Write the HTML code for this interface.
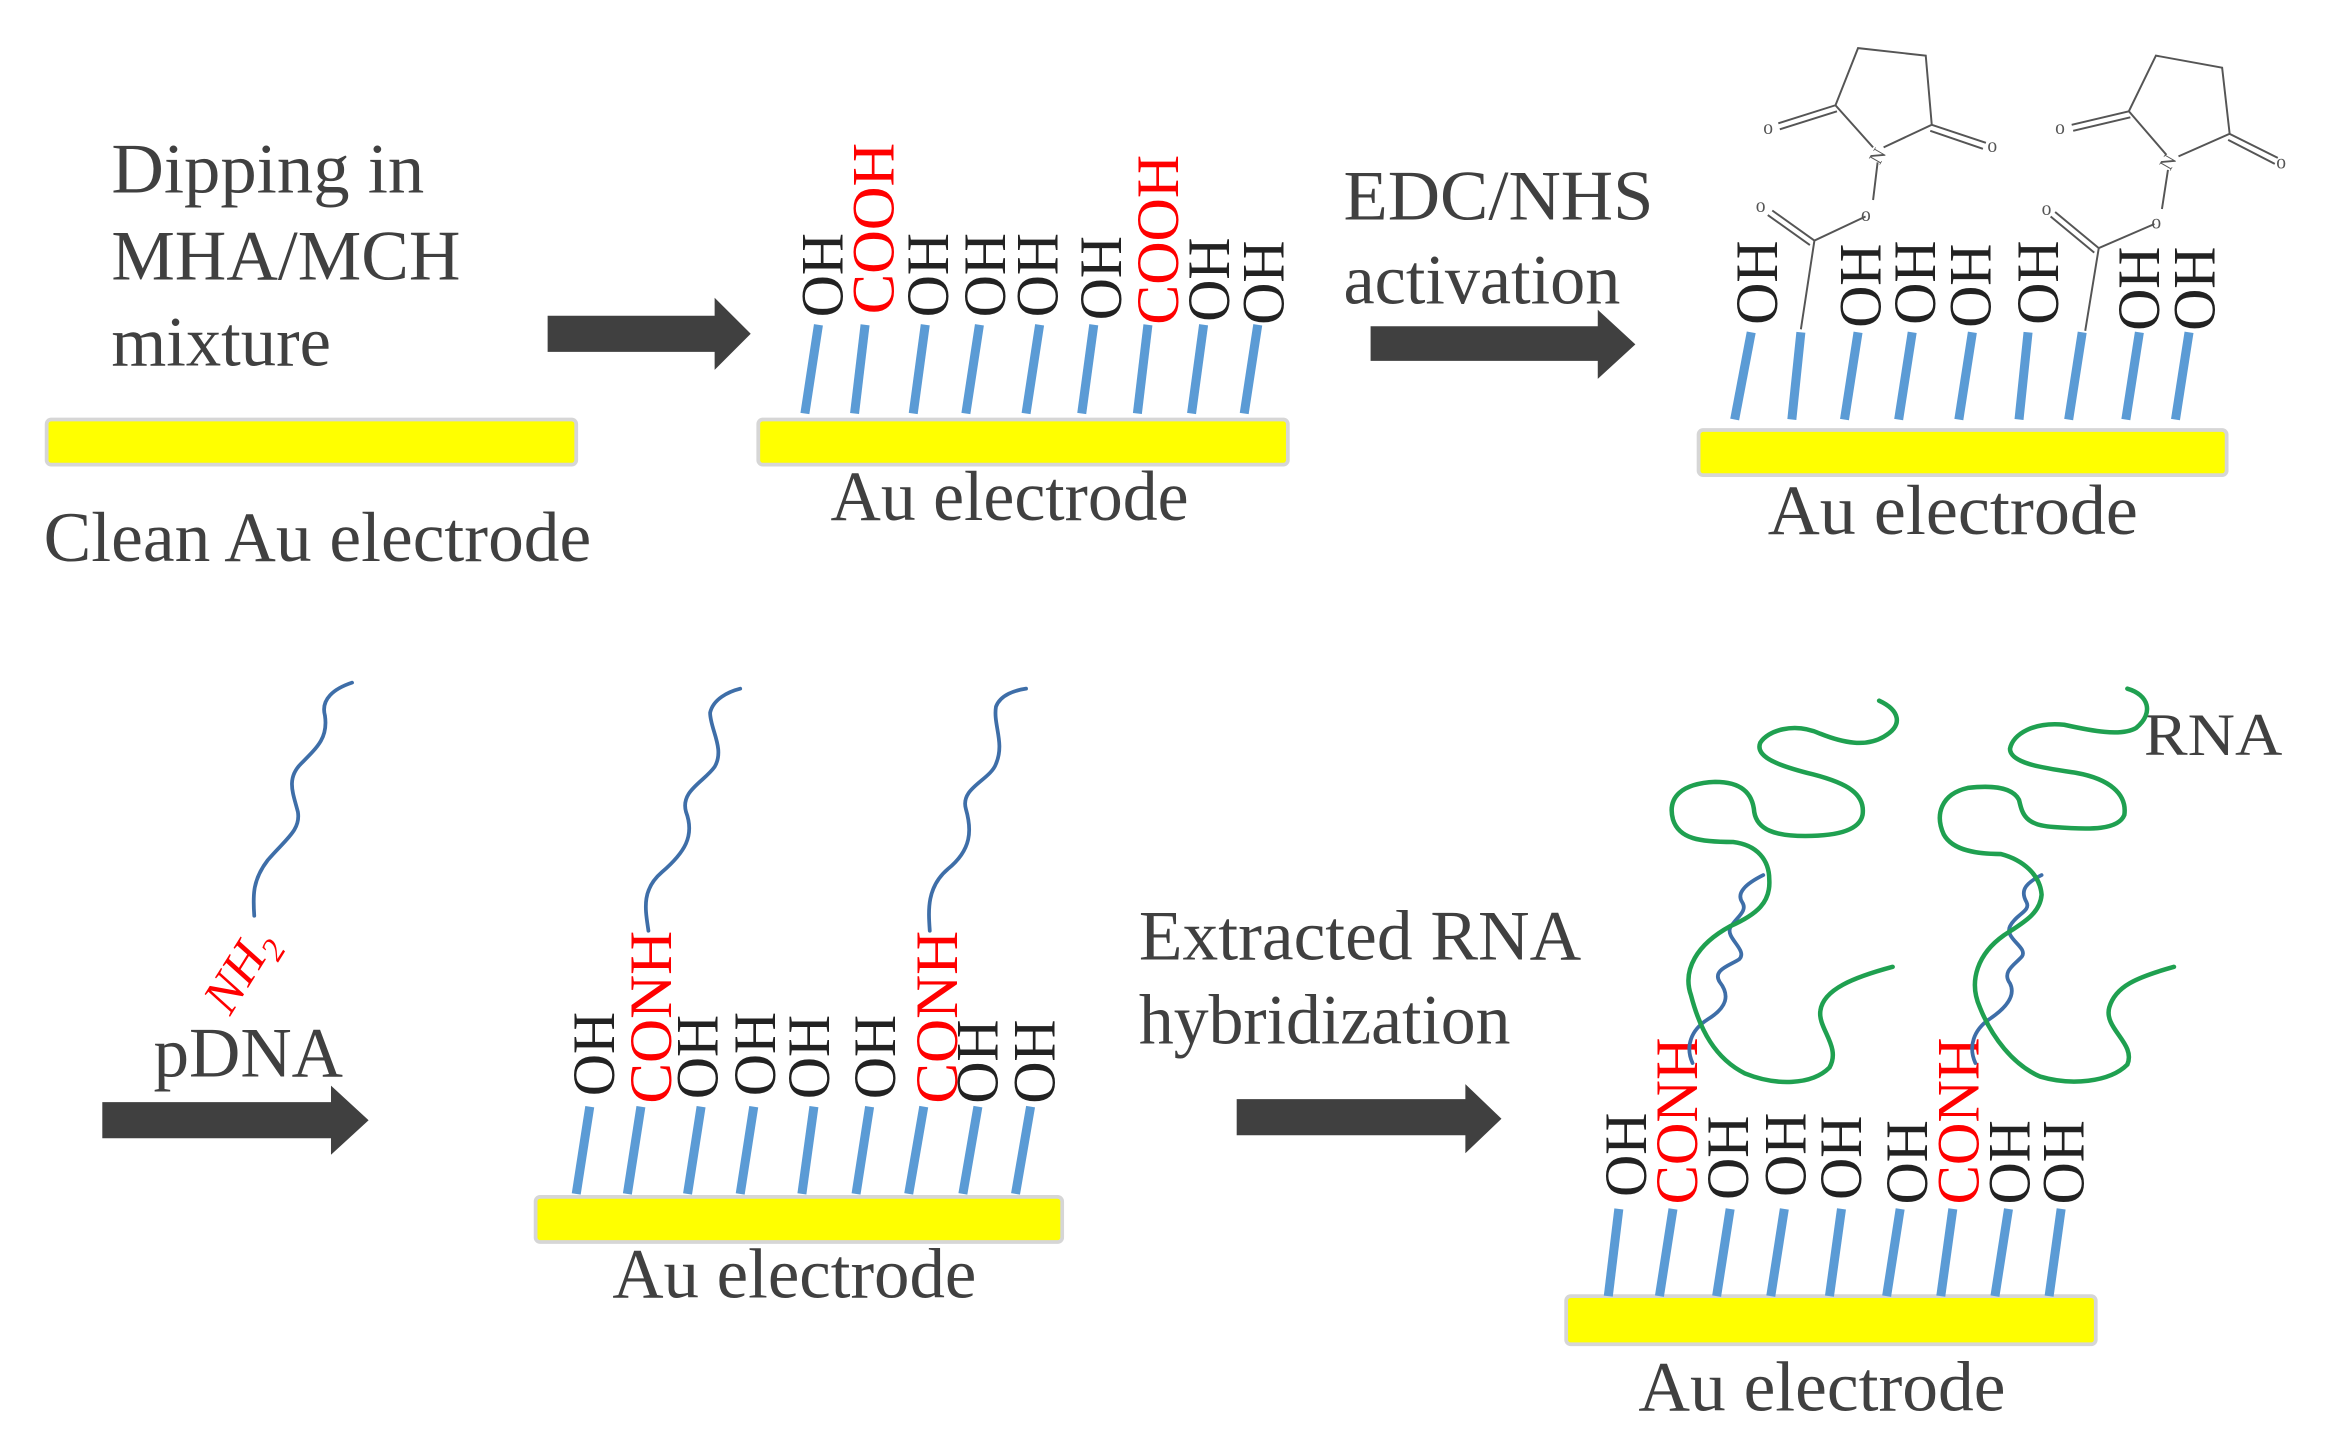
<!DOCTYPE html>
<html><head><meta charset="utf-8"><style>
html,body{margin:0;padding:0;background:#fff}
svg{display:block}
svg text{font-family:"Liberation Serif","Times New Roman",serif}
</style></head><body>
<svg width="2347" height="1451" viewBox="0 0 1560 965" preserveAspectRatio="none" xmlns="http://www.w3.org/2000/svg" font-family="Liberation Serif, serif">
<rect width="1560" height="965" fill="#fff"/>
<g fill="#404040" font-size="47" font-family="Liberation Serif, serif">
<text x="74" y="128" textLength="208" lengthAdjust="spacingAndGlyphs">Dipping in</text>
<text x="74" y="186" textLength="232" lengthAdjust="spacingAndGlyphs">MHA/MCH</text>
<text x="74" y="243" textLength="146" lengthAdjust="spacingAndGlyphs">mixture</text>
<text x="29" y="373" textLength="364" lengthAdjust="spacingAndGlyphs">Clean Au electrode</text>
<text x="552" y="346" textLength="238" lengthAdjust="spacingAndGlyphs">Au electrode</text>
<text x="893" y="146" textLength="206" lengthAdjust="spacingAndGlyphs">EDC/NHS</text>
<text x="893" y="202" textLength="184" lengthAdjust="spacingAndGlyphs">activation</text>
<text x="1175" y="355" textLength="246" lengthAdjust="spacingAndGlyphs">Au electrode</text>
<text x="102" y="716" textLength="126" lengthAdjust="spacingAndGlyphs">pDNA</text>
<text x="407" y="863" textLength="242" lengthAdjust="spacingAndGlyphs">Au electrode</text>
<text x="757" y="638" textLength="294" lengthAdjust="spacingAndGlyphs">Extracted RNA</text>
<text x="757" y="694" textLength="247" lengthAdjust="spacingAndGlyphs">hybridization</text>
<text x="1089" y="938" textLength="244" lengthAdjust="spacingAndGlyphs">Au electrode</text>
<text x="1425" y="502" font-size="40" textLength="92" lengthAdjust="spacingAndGlyphs">RNA</text>
</g>
<g fill="#404040">
<polygon points="364,210 475,210 475,198 499,222 475,246 475,234 364,234"/>
<polygon points="911,217 1062,217 1062,206 1087,229 1062,252 1062,240 911,240"/>
<polygon points="68,733 220,733 220,722 245,745 220,768 220,757 68,757"/>
<polygon points="822,731 974,731 974,721 998,744 974,767 974,755 822,755"/>
</g>
<g fill="#ffff00" stroke="#d6d6d6" stroke-width="2.5">
<rect x="31" y="279" width="352" height="30" rx="3"/>
<rect x="504" y="279" width="352" height="30" rx="3"/>
<rect x="1129" y="286" width="351" height="30" rx="3"/>
<rect x="356" y="796" width="350" height="30" rx="3"/>
<rect x="1041" y="862" width="352" height="32" rx="3"/>
</g>
<g stroke="#5b9bd5" stroke-width="6">
<line x1="544" y1="216" x2="535" y2="275"/><line x1="575" y1="216" x2="568" y2="275"/><line x1="615" y1="216" x2="607" y2="275"/><line x1="651" y1="216" x2="642" y2="275"/><line x1="691" y1="216" x2="682" y2="275"/><line x1="727" y1="216" x2="719" y2="275"/><line x1="763" y1="216" x2="756" y2="275"/><line x1="800" y1="216" x2="792" y2="275"/><line x1="836" y1="216" x2="827" y2="275"/>
<line x1="1164" y1="221" x2="1153" y2="279"/><line x1="1197" y1="221" x2="1191" y2="279"/><line x1="1235" y1="221" x2="1226" y2="279"/><line x1="1271" y1="221" x2="1262" y2="279"/><line x1="1311" y1="221" x2="1302" y2="279"/><line x1="1348" y1="221" x2="1342" y2="279"/><line x1="1384" y1="221" x2="1375" y2="279"/><line x1="1422" y1="221" x2="1413" y2="279"/><line x1="1455" y1="221" x2="1446" y2="279"/>
<line x1="392" y1="736" x2="383" y2="794"/><line x1="426" y1="736" x2="417" y2="794"/><line x1="466" y1="736" x2="457" y2="794"/><line x1="501" y1="736" x2="492" y2="794"/><line x1="541" y1="736" x2="533" y2="794"/><line x1="578" y1="736" x2="569" y2="794"/><line x1="614" y1="736" x2="604" y2="794"/><line x1="650" y1="736" x2="640" y2="794"/><line x1="685" y1="736" x2="675" y2="794"/>
<line x1="1076" y1="804" x2="1069" y2="862"/><line x1="1112" y1="804" x2="1103" y2="862"/><line x1="1150" y1="804" x2="1141" y2="862"/><line x1="1186" y1="804" x2="1177" y2="862"/><line x1="1224" y1="804" x2="1216" y2="862"/><line x1="1263" y1="804" x2="1254" y2="862"/><line x1="1298" y1="804" x2="1290" y2="862"/><line x1="1335" y1="804" x2="1326" y2="862"/><line x1="1370" y1="804" x2="1362" y2="862"/>
</g>
<g font-size="40" fill="#222" font-family="Liberation Serif, serif">
<text transform="translate(560,211) rotate(-90)" textLength="56" lengthAdjust="spacingAndGlyphs">OH</text>
<text transform="translate(594,209) rotate(-90)" fill="#ff0000" textLength="114" lengthAdjust="spacingAndGlyphs">COOH</text>
<text transform="translate(630,211) rotate(-90)" textLength="56" lengthAdjust="spacingAndGlyphs">OH</text>
<text transform="translate(668,211) rotate(-90)" textLength="56" lengthAdjust="spacingAndGlyphs">OH</text>
<text transform="translate(703,211) rotate(-90)" textLength="56" lengthAdjust="spacingAndGlyphs">OH</text>
<text transform="translate(745,213) rotate(-90)" textLength="56" lengthAdjust="spacingAndGlyphs">OH</text>
<text transform="translate(783,216) rotate(-90)" fill="#ff0000" textLength="113" lengthAdjust="spacingAndGlyphs">COOH</text>
<text transform="translate(817,214) rotate(-90)" textLength="56" lengthAdjust="spacingAndGlyphs">OH</text>
<text transform="translate(853,216) rotate(-90)" textLength="56" lengthAdjust="spacingAndGlyphs">OH</text>
<text transform="translate(1181,216) rotate(-90)" textLength="56" lengthAdjust="spacingAndGlyphs">OH</text>
<text transform="translate(1250,218) rotate(-90)" textLength="56" lengthAdjust="spacingAndGlyphs">OH</text>
<text transform="translate(1286,216) rotate(-90)" textLength="56" lengthAdjust="spacingAndGlyphs">OH</text>
<text transform="translate(1323,218) rotate(-90)" textLength="56" lengthAdjust="spacingAndGlyphs">OH</text>
<text transform="translate(1368,216) rotate(-90)" textLength="56" lengthAdjust="spacingAndGlyphs">OH</text>
<text transform="translate(1435,220) rotate(-90)" textLength="56" lengthAdjust="spacingAndGlyphs">OH</text>
<text transform="translate(1472,220) rotate(-90)" textLength="56" lengthAdjust="spacingAndGlyphs">OH</text>
<text transform="translate(408,729) rotate(-90)" textLength="56" lengthAdjust="spacingAndGlyphs">OH</text>
<text transform="translate(446,734) rotate(-90)" fill="#ff0000" textLength="115" lengthAdjust="spacingAndGlyphs">CONH</text>
<text transform="translate(477,731) rotate(-90)" textLength="56" lengthAdjust="spacingAndGlyphs">OH</text>
<text transform="translate(515,729) rotate(-90)" textLength="56" lengthAdjust="spacingAndGlyphs">OH</text>
<text transform="translate(551,731) rotate(-90)" textLength="56" lengthAdjust="spacingAndGlyphs">OH</text>
<text transform="translate(595,731) rotate(-90)" textLength="56" lengthAdjust="spacingAndGlyphs">OH</text>
<text transform="translate(636,734) rotate(-90)" fill="#ff0000" textLength="115" lengthAdjust="spacingAndGlyphs">CONH</text>
<text transform="translate(663,734) rotate(-90)" textLength="56" lengthAdjust="spacingAndGlyphs">OH</text>
<text transform="translate(701,734) rotate(-90)" textLength="56" lengthAdjust="spacingAndGlyphs">OH</text>
<text transform="translate(1094,796) rotate(-90)" textLength="56" lengthAdjust="spacingAndGlyphs">OH</text>
<text transform="translate(1128,801) rotate(-90)" fill="#ff0000" textLength="111" lengthAdjust="spacingAndGlyphs">CONH</text>
<text transform="translate(1162,798) rotate(-90)" textLength="56" lengthAdjust="spacingAndGlyphs">OH</text>
<text transform="translate(1200,796) rotate(-90)" textLength="56" lengthAdjust="spacingAndGlyphs">OH</text>
<text transform="translate(1237,798) rotate(-90)" textLength="56" lengthAdjust="spacingAndGlyphs">OH</text>
<text transform="translate(1281,801) rotate(-90)" textLength="56" lengthAdjust="spacingAndGlyphs">OH</text>
<text transform="translate(1315,801) rotate(-90)" fill="#ff0000" textLength="111" lengthAdjust="spacingAndGlyphs">CONH</text>
<text transform="translate(1349,801) rotate(-90)" textLength="56" lengthAdjust="spacingAndGlyphs">OH</text>
<text transform="translate(1385,801) rotate(-90)" textLength="56" lengthAdjust="spacingAndGlyphs">OH</text>
</g>
<g stroke="#555" stroke-width="1.3" fill="none">
<path d="M1197,219 L1206,160 L1240,144 M1245,133 L1248,108 M1206,160 L1178,140 M1203,163 L1175,143"/>
<path d="M1245,98 L1220,70 L1235,32 L1280,37 L1284,83 L1252,98 M1220,70 L1182,82 M1221,74 L1183,86 M1284,83 L1320,95 M1283,87 L1318,99"/>
<path d="M1386,220 L1395,165 L1432,149 M1437,139 L1441,113 M1395,165 L1366,141 M1392,168 L1363,144"/>
<path d="M1440,103 L1415,74 L1433,37 L1477,45 L1482,89 L1448,104 M1415,74 L1377,83 M1416,78 L1378,87 M1482,89 L1514,105 M1481,93 L1512,109"/>
</g>
<g fill="#555" font-size="13" font-family="Liberation Sans, sans-serif">
<text x="1237" y="147">o</text><text x="1243" y="109" transform="rotate(-60 1247 104)">N</text>
<text x="1167" y="141">o</text><text x="1172" y="89">o</text><text x="1321" y="101">o</text>
<text x="1430" y="152">o</text><text x="1436" y="113" transform="rotate(-60 1440 108)">N</text>
<text x="1357" y="143">o</text><text x="1366" y="89">o</text><text x="1513" y="112">o</text>
</g>
<g stroke="#3e6ea8" stroke-width="2.5" fill="none" stroke-linecap="round">
<path d="M169,609 C168,595 168,585 178,572 C190,558 200,552 198,540 C195,528 190,518 200,508 C212,496 218,490 216,476 C213,465 222,458 234,454"/>
<path d="M431,619 C429,605 426,592 440,580 C455,567 462,556 456,540 C452,526 468,520 475,510 C482,498 472,485 472,474 C474,465 484,460 492,458"/>
<path d="M618,619 C617,605 616,590 630,578 C646,565 646,552 642,538 C638,524 658,519 662,508 C668,494 660,482 662,470 C665,462 675,459 682,458"/>
<path d="M1125,707 C1120,696 1124,685 1135,678 C1148,670 1150,662 1143,653 C1138,645 1150,642 1156,638 C1162,632 1147,624 1150,617 C1154,610 1162,606 1158,600 C1154,594 1160,588 1172,582"/>
<path d="M1313,707 C1308,696 1312,685 1322,678 C1334,670 1340,662 1336,654 C1330,646 1340,641 1344,636 C1348,630 1332,624 1336,616 C1340,608 1350,606 1347,600 C1343,593 1345,588 1357,582"/>
</g>
<g stroke="#1fa050" stroke-width="3" fill="none" stroke-linecap="round" stroke-linejoin="round">
<path d="M1249,466 C1262,472 1266,482 1252,490 C1240,497 1225,494 1210,488 C1192,480 1175,486 1170,494 C1166,504 1185,510 1205,515 C1228,521 1240,528 1238,542 C1236,552 1222,556 1200,556 C1180,556 1168,552 1166,540 C1165,528 1158,520 1140,520 C1118,521 1108,530 1112,545 C1116,558 1130,560 1152,560 C1168,562 1176,572 1176,585 C1177,600 1168,608 1150,616 C1128,628 1118,645 1124,662 C1130,685 1140,704 1160,714 C1180,722 1204,722 1216,710 C1224,696 1208,684 1210,672 C1212,658 1232,650 1258,643"/>
<path d="M1414,458 C1428,462 1432,474 1420,484 C1410,490 1390,486 1372,482 C1352,480 1338,488 1336,498 C1336,508 1360,511 1380,514 C1402,518 1414,528 1412,542 C1408,552 1390,552 1365,550 C1345,549 1344,540 1342,532 C1338,524 1325,522 1308,524 C1290,528 1286,542 1292,555 C1298,566 1315,568 1330,568 C1345,572 1356,582 1357,595 C1356,608 1344,614 1332,622 C1315,634 1308,652 1316,670 C1324,690 1338,708 1356,716 C1376,722 1402,720 1414,708 C1420,694 1398,684 1402,670 C1406,656 1420,650 1445,643"/>
</g>
<text transform="translate(153,676) rotate(-58)" font-size="34" fill="#ff0000" font-style="italic" font-family="Liberation Serif, serif">NH<tspan font-size="22" dy="8">2</tspan></text>
</svg>
</body></html>
